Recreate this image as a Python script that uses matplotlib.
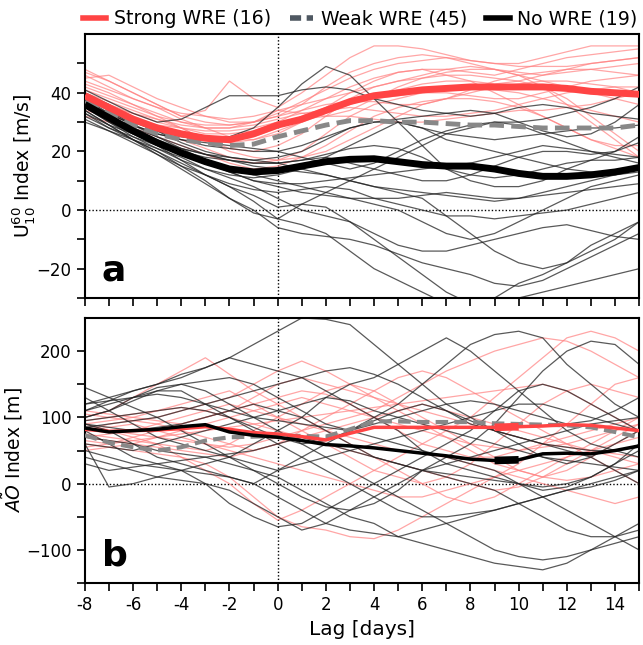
import numpy as np
import matplotlib
matplotlib.use("Agg")
import matplotlib.pyplot as plt
from matplotlib.lines import Line2D
from matplotlib.ticker import MultipleLocator, FixedLocator, FuncFormatter

lags = list(range(-8, 16))

# ---- Panel a: U10^60 index [m/s] ----
u_strong_mean = [39, 35, 31, 28, 26, 24.5, 24, 26, 29, 31, 34, 37, 39, 40, 41, 41.5, 42, 42, 42, 42, 41.5, 40.5, 40, 39.5]
u_weak_mean = [37, 33, 29, 26, 24, 23, 22, 22.5, 25, 27, 29, 30.5, 30.5, 30, 30, 29.5, 29, 29, 28.5, 28, 28, 28, 28, 29]
u_none_mean = [36, 31.5, 27, 23, 19.5, 16.5, 14, 13, 13.5, 15, 16.5, 17.3, 17.5, 16.5, 15.5, 15, 15, 14, 12.5, 11.5, 11.5, 12, 13, 14.5]

u_strong_events = [
    [48, 44, 40, 36, 32, 34, 44, 38, 35, 40, 46, 52, 56, 56, 55, 53, 51, 50, 50, 52, 54, 56, 56, 56],
    [45, 46, 42, 38, 35, 32, 30, 30, 32, 36, 42, 47, 50, 52, 53, 52, 50, 48, 46, 44, 42, 40, 38, 36],
    [44, 41, 38, 35, 31, 28, 25, 24, 26, 30, 35, 40, 44, 47, 48, 48, 47, 46, 48, 50, 52, 53, 54, 55],
    [42, 39, 36, 33, 30, 28, 28, 30, 34, 36, 38, 40, 42, 44, 45, 46, 46, 45, 44, 42, 38, 32, 26, 20],
    [40, 37, 34, 31, 28, 24, 21, 20, 22, 26, 32, 38, 42, 44, 46, 48, 49, 48, 46, 42, 36, 30, 24, 18],
    [38, 35, 32, 29, 26, 24, 23, 24, 27, 30, 33, 36, 39, 41, 43, 44, 44, 43, 44, 46, 48, 50, 51, 52],
    [36, 33, 30, 28, 26, 25, 24, 25, 28, 32, 35, 37, 38, 39, 40, 41, 42, 41, 40, 38, 36, 34, 32, 30],
    [34, 32, 30, 27, 24, 21, 18, 16, 17, 20, 26, 32, 36, 38, 40, 40, 39, 38, 38, 40, 42, 44, 45, 46],
    [32, 30, 28, 25, 22, 19, 16, 14, 15, 18, 22, 27, 32, 35, 37, 38, 38, 37, 35, 32, 28, 24, 21, 18],
    [46, 42, 38, 35, 33, 32, 31, 32, 34, 33, 32, 34, 38, 42, 45, 47, 48, 48, 47, 46, 47, 48, 49, 50],
    [43, 40, 36, 32, 28, 24, 20, 18, 17, 18, 20, 24, 28, 32, 36, 38, 40, 42, 43, 44, 44, 43, 42, 40],
    [41, 38, 35, 32, 30, 29, 29, 30, 32, 34, 36, 37, 37, 36, 36, 38, 41, 44, 46, 47, 48, 48, 47, 46],
    [39, 36, 33, 30, 28, 26, 26, 27, 30, 34, 38, 42, 45, 47, 48, 46, 44, 40, 36, 32, 28, 24, 22, 22],
    [37, 35, 33, 31, 29, 28, 28, 29, 31, 33, 34, 35, 34, 33, 32, 32, 33, 34, 36, 38, 40, 41, 42, 42],
    [35, 33, 31, 29, 28, 27, 27, 28, 30, 31, 32, 32, 31, 30, 30, 31, 32, 33, 34, 34, 35, 36, 38, 40],
    [47, 44, 40, 36, 32, 30, 29, 30, 33, 37, 41, 45, 48, 50, 51, 52, 51, 50, 49, 49, 49, 50, 51, 52],
]

u_none_events = [
    [41, 37, 33, 30, 31, 35, 39, 39, 39, 41, 42, 41, 38, 36, 34, 33, 32, 33, 35, 36, 35, 33, 32, 31],
    [38, 34, 30, 27, 25, 24, 25, 28, 35, 43, 49, 46, 38, 30, 22, 14, 10, 8, 8, 10, 14, 17, 20, 25],
    [36, 31, 26, 22, 17, 12, 8, 3, -3, 2, 6, 10, 14, 18, 22, 26, 28, 30, 30, 31, 33, 35, 38, 42],
    [34, 29, 24, 20, 16, 12, 8, 5, 1, 2, 1, -4, -10, -16, -22, -28, -32, -30, -25, -22, -18, -12, -8, -4],
    [33, 28, 24, 20, 15, 10, 4, -1, -3, -5, -8, -14, -20, -24, -28, -32, -34, -32, -30, -28, -26, -24, -22, -20],
    [35, 30, 25, 21, 17, 14, 12, 11, 12, 14, 18, 22, 26, 30, 28, 24, 22, 20, 18, 16, 14, 13, 12, 13],
    [37, 32, 28, 24, 21, 19, 18, 17, 16, 14, 12, 10, 8, 6, 4, -2, -8, -14, -18, -20, -18, -14, -10, -4],
    [32, 28, 25, 22, 19, 16, 13, 10, 8, 6, 5, 4, 4, 4, 5, 6, 5, 4, 4, 5, 6, 7, 8, 9],
    [39, 34, 29, 25, 21, 17, 13, 10, 9, 9, 10, 11, 12, 13, 14, 15, 16, 18, 20, 22, 21, 20, 19, 18],
    [36, 32, 28, 25, 22, 19, 17, 15, 14, 13, 12, 10, 8, 7, 6, 5, 4, 3, 4, 6, 8, 10, 12, 14],
    [34, 29, 24, 19, 14, 9, 4, 0, -6, -8, -9, -10, -12, -15, -18, -20, -22, -25, -26, -24, -20, -16, -12, -8],
    [38, 33, 29, 26, 24, 23, 22, 21, 20, 22, 25, 28, 30, 30, 28, 26, 25, 24, 25, 26, 27, 28, 28, 29],
    [31, 27, 23, 19, 15, 12, 9, 7, 6, 7, 8, 7, 4, 2, 0, -2, -2, -3, -2, -1, 0, 2, 4, 6],
    [40, 36, 31, 27, 23, 20, 18, 17, 18, 20, 24, 28, 30, 31, 32, 33, 34, 33, 30, 27, 25, 26, 30, 36],
    [35, 30, 26, 22, 19, 16, 14, 12, 10, 8, 6, 4, 2, 0, -4, -8, -10, -8, -4, 0, 4, 8, 10, 12],
    [33, 29, 26, 23, 21, 19, 17, 16, 16, 17, 18, 16, 14, 12, 10, 10, 12, 15, 18, 20, 20, 19, 20, 23],
    [37, 33, 29, 26, 24, 22, 21, 20, 20, 18, 16, 14, 16, 20, 24, 27, 29, 30, 29, 26, 23, 20, 18, 16],
    [30, 27, 24, 21, 18, 14, 11, 8, 4, 0, -2, -4, -8, -12, -14, -14, -12, -10, -8, -6, -5, -7, -9, -10],
    [36, 31, 27, 23, 20, 18, 17, 16, 16, 17, 19, 21, 22, 21, 18, 14, 12, 11, 12, 14, 16, 17, 17, 18],
]

# ---- Panel b: AO index [m] ----
ao_strong_mean = [82, 79, 80, 81, 83, 86, 82, 77, 75, 71, 66, 76, 85, 85, 85, 85, 85, 85, 86, 87, 89, 88, 84, 80]
ao_weak_mean = [73, 62, 55, 50, 55, 65, 70, 71, 72, 72, 71, 82, 94, 94, 93, 93, 93, 91, 90, 89, 88, 85, 78, 70]
ao_none_mean = [84, 78, 80, 82, 86, 89, 78, 73, 70, 65, 59, 57, 54, 50, 46, 42, 37, 35, 36, 45, 46, 45, 50, 57]
ao_thick_from = 9
ao_thick_to = 10

ao_strong_events = [
    [100, 110, 130, 150, 170, 190, 165, 140, 120, 100, 80, 60, 40, 20, 0, -20, -30, -20, 0, 20, 40, 60, 80, 100],
    [80, 90, 95, 100, 110, 120, 130, 150, 170, 185, 170, 150, 130, 110, 90, 70, 50, 30, 20, 10, 20, 40, 60, 80],
    [60, 55, 50, 45, 40, 30, 10, -20, -50, -65, -70, -80, -83, -70, -50, -30, -10, 10, 30, 60, 90, 120, 150, 160],
    [90, 80, 70, 60, 40, 20, 0, -30, -55, -40, -20, 0, 20, 40, 60, 80, 100, 130, 160, 190, 220, 230, 220, 200],
    [70, 75, 80, 90, 100, 110, 120, 110, 100, 90, 80, 70, 60, 50, 45, 40, 30, 20, 10, 0, -10, -20, -30, -20],
    [105, 100, 95, 90, 80, 70, 60, 50, 60, 80, 100, 120, 140, 160, 170, 160, 140, 120, 100, 80, 60, 40, 20, 0],
    [50, 55, 60, 70, 80, 90, 100, 110, 120, 130, 120, 110, 100, 90, 80, 70, 60, 55, 50, 55, 60, 70, 80, 90],
    [85, 80, 75, 70, 65, 60, 55, 60, 70, 80, 90, 100, 110, 130, 150, 170, 185, 200, 210, 220, 215, 200, 180, 160],
    [95, 100, 105, 110, 115, 110, 100, 90, 80, 70, 60, 50, 40, 30, 20, 10, 0, -10, -5, 10, 30, 50, 70, 90],
    [75, 70, 65, 60, 55, 50, 60, 80, 100, 120, 140, 150, 140, 120, 100, 80, 60, 40, 20, 10, 5, 10, 20, 30],
    [65, 60, 70, 80, 90, 100, 110, 120, 130, 140, 135, 120, 100, 80, 60, 50, 40, 40, 50, 60, 70, 80, 90, 100],
    [110, 105, 100, 95, 90, 100, 110, 130, 150, 160, 150, 140, 130, 120, 110, 100, 90, 80, 70, 60, 55, 50, 45, 40],
    [55, 60, 65, 70, 75, 80, 85, 90, 95, 100, 105, 110, 115, 120, 125, 130, 135, 140, 145, 150, 140, 120, 100, 80],
    [80, 85, 90, 80, 70, 60, 50, 40, 30, 20, 10, 0, -10, -20, -20, -10, 0, 10, 20, 30, 40, 50, 60, 70],
    [70, 65, 60, 55, 50, 45, 40, 50, 60, 70, 80, 90, 100, 110, 120, 110, 100, 90, 80, 70, 60, 50, 40, 30],
    [90, 95, 100, 110, 120, 130, 140, 120, 100, 80, 60, 40, 20, 10, 0, 10, 30, 60, 90, 120, 140, 150, 140, 130],
]

ao_none_events = [
    [120, 130, 140, 150, 160, 175, 190, 210, 230, 250, 248, 240, 210, 180, 150, 120, 100, 80, 60, 40, 30, 40, 60, 80],
    [100, 110, 125, 140, 150, 140, 120, 100, 80, 60, 40, 20, 0, -20, -40, -60, -80, -100, -110, -115, -110, -100, -90, -80],
    [90, 80, 60, 40, 30, 20, 10, 0, 20, 40, 60, 80, 100, 120, 150, 180, 210, 225, 230, 220, 180, 150, 120, 100],
    [145, 130, 115, 100, 80, 60, 40, 20, 0, -20, -35, -40, -30, -10, 20, 40, 60, 90, 130, 170, 200, 215, 210, 180],
    [110, 125, 140, 150, 165, 175, 190, 180, 170, 160, 140, 120, 100, 80, 50, 30, 20, 10, 0, -10, -5, 10, 30, 50],
    [80, 60, 40, 30, 20, 0, -30, -50, -65, -60, -40, -20, 0, 20, 40, 60, 80, 110, 140, 150, 140, 120, 100, 80],
    [60, -5, 0, 10, 20, 30, 40, 60, 80, 100, 130, 150, 160, 180, 200, 220, 200, 170, 140, 110, 80, 60, 50, 40],
    [50, 40, 30, 25, 20, 15, 10, 0, -20, -40, -60, -70, -75, -80, -70, -60, -50, -40, -30, -20, -10, -5, 5, 20],
    [100, 110, 130, 145, 150, 155, 160, 150, 130, 110, 90, 80, 70, 60, 50, 40, 30, 20, 0, -20, -40, -60, -80, -100],
    [85, 90, 95, 100, 110, 120, 130, 140, 150, 160, 170, 175, 165, 150, 130, 110, 90, 80, 70, 60, 50, 40, 20, 0],
    [120, 125, 130, 140, 140, 120, 100, 80, 60, 40, 20, 0, -20, -40, -50, -50, -45, -40, -30, -20, -10, 0, 10, 20],
    [30, 20, 25, 30, 35, 40, 45, 50, 60, 70, 60, 50, 40, 30, 20, 10, 0, -10, -30, -50, -70, -80, -80, -70],
    [95, 100, 105, 110, 115, 110, 100, 85, 70, 60, 65, 80, 95, 110, 120, 110, 95, 80, 70, 60, 55, 50, 50, 55],
    [70, 65, 60, 50, 45, 40, 30, 20, 10, -10, -30, -50, -60, -80, -90, -100, -110, -120, -125, -130, -120, -100, -80, -60],
    [110, 120, 130, 135, 130, 120, 110, 100, 95, 90, 85, 80, 90, 100, 110, 120, 125, 120, 110, 100, 90, 95, 110, 130],
    [60, 55, 50, 60, 70, 80, 90, 100, 110, 120, 130, 125, 110, 100, 90, 80, 70, 60, 50, 40, 35, 30, 25, 20],
    [130, 110, 90, 70, 60, 50, 40, 30, 20, 30, 40, 50, 60, 70, 80, 90, 100, 110, 120, 120, 110, 100, 90, 80],
    [40, 30, 20, 10, 5, 0, -10, -30, -50, -70, -60, -40, -20, 0, 20, 30, 40, 50, 60, 70, 80, 90, 95, 100],
    [90, 85, 80, 85, 90, 100, 110, 120, 110, 100, 80, 60, 40, 30, 20, 15, 10, 5, 0, -5, 0, 10, 30, 60],
]

legend_labels = ["Strong WRE (16)", "Weak WRE (45)", "No WRE (19)"]

RED = "#ff4444"
RED_THIN = "#ff8080"
GRAY = "#888888"
GRAY_LEG = "#4f5862"

fig = plt.figure(figsize=(6.43, 6.45), dpi=100)
ax1 = fig.add_axes([0.132, 0.538, 0.862, 0.409])
ax2 = fig.add_axes([0.132, 0.096, 0.862, 0.411])

x = np.array(lags)

def style(ax):
    for s in ax.spines.values():
        s.set_linewidth(1.5)
    ax.set_xlim(-8, 15)
    ax.xaxis.set_major_locator(MultipleLocator(2))
    ax.xaxis.set_minor_locator(MultipleLocator(1))
    ax.xaxis.set_major_formatter(FuncFormatter(lambda v, p: "%d" % v))
    ax.tick_params(which="both", direction="out", length=6, width=1.2, labelsize=12)
    ax.axhline(0, color="black", lw=1, ls=(0, (1, 1.5)), zorder=1)
    ax.axvline(0, color="black", lw=1, ls=(0, (1, 1.5)), zorder=1)

# Panel a
for ev in u_strong_events:
    ax1.plot(x, ev, color=RED_THIN, lw=0.9, alpha=0.7, zorder=2)
for ev in u_none_events:
    ax1.plot(x, ev, color="#222222", lw=0.9, alpha=0.75, zorder=2)
ax1.plot(x, u_weak_mean, color=GRAY, lw=3.5, ls=(0, (3, 1.5)), zorder=4)
ax1.plot(x, u_strong_mean, color=RED, lw=5, zorder=5, solid_capstyle="butt")
ax1.plot(x, u_none_mean, color="black", lw=5, zorder=5, solid_capstyle="butt")
style(ax1)
ax1.set_ylim(-30, 60)
ax1.yaxis.set_major_locator(FixedLocator([-20, 0, 20, 40]))
ax1.yaxis.set_minor_locator(FixedLocator([-30, -10, 10, 30, 50]))
ax1.set_xticklabels([])
ax1.set_ylabel(r"U$_{10}^{60}$ Index [m/s]", fontsize=13.5, labelpad=0)
ax1.text(0.03, 0.04, "a", transform=ax1.transAxes, fontsize=26, fontweight="bold",
         ha="left", va="bottom")

# Panel b
for ev in ao_strong_events:
    ax2.plot(x, ev, color=RED_THIN, lw=0.9, alpha=0.7, zorder=2)
for ev in ao_none_events:
    ax2.plot(x, ev, color="#222222", lw=0.9, alpha=0.75, zorder=2)
ax2.plot(x, ao_weak_mean, color=GRAY, lw=3, ls=(0, (3, 1.5)), zorder=4)
ax2.plot(x, ao_strong_mean, color=RED, lw=2.5, zorder=5)
ax2.plot(x, ao_none_mean, color="black", lw=2.5, zorder=5)
sel = (x >= ao_thick_from) & (x <= ao_thick_to)
ax2.plot(x[sel], np.array(ao_strong_mean)[sel], color=RED, lw=5.5, zorder=6, solid_capstyle="butt")
ax2.plot(x[sel], np.array(ao_none_mean)[sel], color="black", lw=5.5, zorder=6, solid_capstyle="butt")
style(ax2)
ax2.set_ylim(-150, 250)
ax2.yaxis.set_major_locator(FixedLocator([-100, 0, 100, 200]))
ax2.yaxis.set_minor_locator(FixedLocator([-150, -50, 50, 150]))
ax2.set_ylabel(r"$\tilde{AO}$ Index [m]", fontsize=13.5, labelpad=1)
ax2.set_xlabel("Lag [days]", fontsize=14.5)
ax2.text(0.03, 0.04, "b", transform=ax2.transAxes, fontsize=26, fontweight="bold",
         ha="left", va="bottom")

handles = [
    Line2D([], [], color=RED, lw=4),
    Line2D([], [], color=GRAY_LEG, lw=4, ls=(0, (2, 1))),
    Line2D([], [], color="black", lw=4),
]
fig.legend(handles, legend_labels, loc="upper center", bbox_to_anchor=(0.56, 1.012), ncol=3,
           frameon=False, fontsize=13.6, handlelength=1.25, handletextpad=0.4, columnspacing=1.0)

fig.savefig("out.png", dpi=100)
